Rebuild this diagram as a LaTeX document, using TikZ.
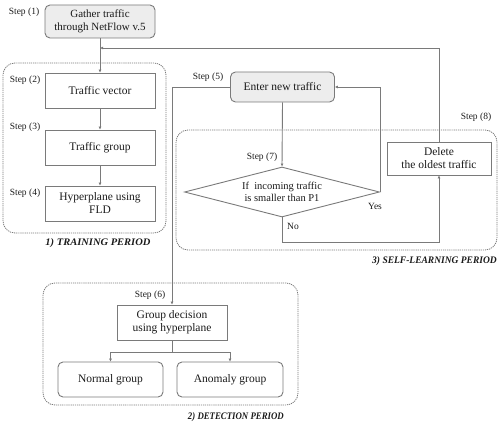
\documentclass[tikz,border=0pt]{standalone}
\usepackage{fontspec}
\usepackage{graphicx}
\setmainfont{Liberation Serif}
\usetikzlibrary{arrows.meta,shapes.geometric}
\definecolor{ln}{HTML}{7A7A7A}
\definecolor{fillg}{HTML}{EDEDED}
\definecolor{txt}{HTML}{1A1A1A}
\tikzset{
  box/.style={draw=ln, line width=0.9pt, minimum width=110pt, minimum height=35pt, inner sep=1pt, align=center, font=\fontsize{11.5}{13}\selectfont, text=txt},
  rbox/.style={box, rounded corners=5pt},
  gbox/.style={rbox, fill=fillg},
  steplbl/.style={font=\fontsize{9.5}{10}\selectfont, text=txt, inner sep=0pt},
  period/.style={font=\fontsize{10}{11}\selectfont\bfseries\itshape, text=txt, inner sep=0pt},
  region/.style={draw=ln, line width=0.8pt, dash pattern=on 1.2pt off 0.9pt, rounded corners=12pt},
  conn/.style={draw=ln, line width=0.9pt},
  arr/.style={conn, -{Latex[length=3pt,width=3pt]}},
}
\begin{document}
\begin{tikzpicture}[x=1pt,y=-1pt]
\useasboundingbox (0,0) rectangle (500,425);
% regions
\draw[region] (3,63) rectangle (166,233);
\draw[region] (176,130) rectangle (497,250);
\draw[region] (43,283) rectangle (298,405);
% nodes
\node[gbox, minimum height=33pt, font=\fontsize{11}{12.5}\selectfont] (gather) at (100,21.5) {Gather traffic\\through NetFlow v.5};
\node[box] (tv) at (100,90.5) {Traffic vector};
\node[box] (tg) at (100,147.5) {Traffic group};
\node[box] (hp) at (100,203.5) {Hyperplane using\\FLD};
\node[gbox, minimum width=104pt, minimum height=30pt] (enter) at (282.5,87) {Enter new traffic};
\node[draw=ln, line width=0.9pt, shape=diamond, aspect=3.9, inner sep=0pt, minimum width=195pt, minimum height=50pt, align=center, font=\fontsize{10.5}{12}\selectfont, text=txt] (dia) at (282,192) {If~ incoming traffic\\is smaller than P1};
\node[box, minimum width=104pt, minimum height=33pt] (del) at (439,158.5) {Delete\\the oldest traffic};
\node[box] (gd) at (172,322.5) {Group decision\\using hyperplane};
\node[rbox, minimum width=105pt] (ng) at (110.5,379.5) {Normal group};
\node[rbox, minimum width=106pt] (ag) at (230,379.5) {Anomaly group};
% step labels
\node[steplbl] (s1) at (24,12) {Step (1)};
\node[steplbl] (s2) at (25,80) {Step (2)};
\node[steplbl] (s3) at (25,127) {Step (3)};
\node[steplbl] (s4) at (25,193) {Step (4)};
\node[steplbl] (s5) at (208,77) {Step (5)};
\node[steplbl] (s6) at (150,295) {Step (6)};
\node[steplbl] (s7) at (262,157) {Step (7)};
\node[steplbl] (s8) at (476,117) {Step (8)};
\node[steplbl] (yes) at (375,206) {Yes};
\node[steplbl] (no) at (293,226) {No};
% period labels
\node[period] (p1) at (98,243) {\scalebox{1.05}[1]{1) TRAINING PERIOD}};
\node[period, anchor=east] (p3) at (497,261) {\scalebox{0.95}[1]{3) SELF-LEARNING PERIOD}};
\node[period, anchor=east] (p2) at (284,417) {\scalebox{0.88}[1]{2) DETECTION PERIOD}};
% connectors
\coordinate (j48) at (gather.south |- 0,48);
\draw[arr] (gather.south) -- (tv.north);
\draw[arr] (tv.south) -- (tg.north);
\draw[arr] (tg.south) -- (hp.north);
\draw[arr] (del.north) |- (j48);
\draw[arr] (enter.west) -| (gd.north);
\draw[arr] (enter.south) -- (dia.north);
\draw[arr] (dia.east) |- (enter.east);
\coordinate (nob) at (282,242);
\draw[arr] (dia.south) -- (nob) -| (del.south);
\coordinate (gdb) at (172,352);
\draw[conn] (gd.south) -- (gdb);
\draw[arr] (gdb) -| (ng.north);
\draw[arr] (gdb) -| (ag.north);
\end{tikzpicture}
\end{document}
